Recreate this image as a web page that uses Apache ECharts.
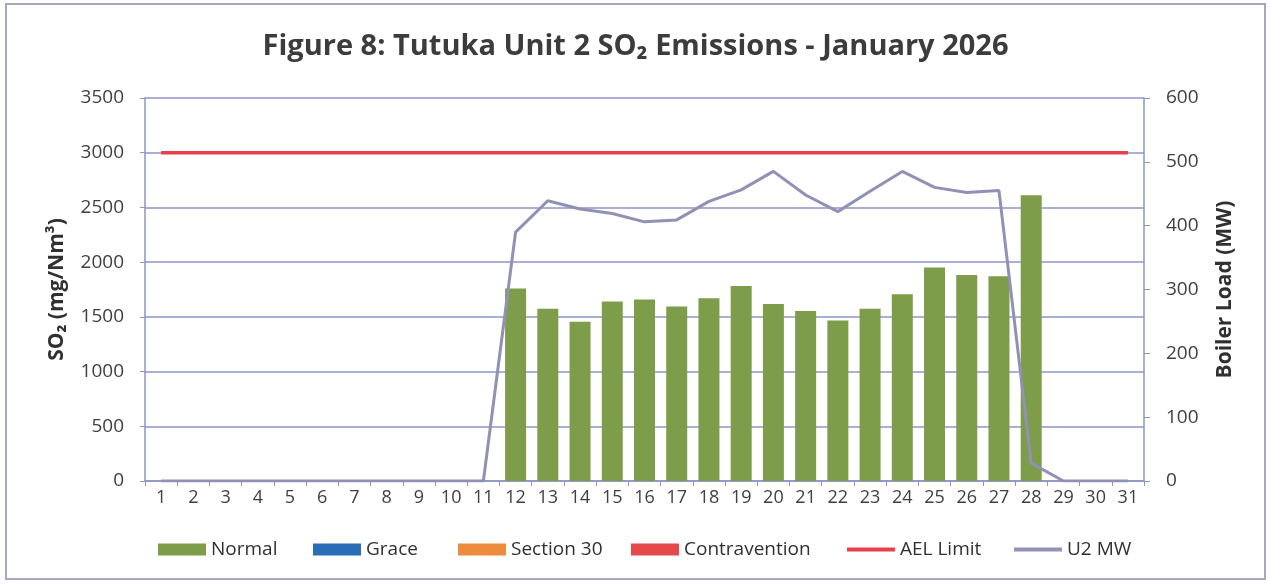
<!DOCTYPE html>
<html>
<head>
<meta charset="utf-8">
<script src="https://cdn.jsdelivr.net/npm/echarts@6/dist/echarts.min.js"></script>
<style>
html,body{margin:0;padding:0;background:#fff;}
#c{width:1271px;height:584px;}
</style>
</head>
<body>
<div id="c"></div>
<script>
const days = ["1","2","3","4","5","6","7","8","9","10","11","12","13","14","15","16","17","18","19","20","21","22","23","24","25","26","27","28","29","30","31"];
const normal = [null,null,null,null,null,null,null,null,null,null,null,1760,1575,1455,1640,1658,1595,1670,1782,1618,1553,1466,1575,1707,1950,1883,1871,2612,null,null,null];
const grace = [null,null,null,null,null,null,null,null,null,null,null,null,null,null,null,null,null,null,null,null,null,null,null,null,null,null,null,null,null,null,null];
const section30 = grace.slice();
const contravention = grace.slice();
const aelLimit = [3000,3000,3000,3000,3000,3000,3000,3000,3000,3000,3000,3000,3000,3000,3000,3000,3000,3000,3000,3000,3000,3000,3000,3000,3000,3000,3000,3000,3000,3000,3000];
const u2mw = [0,0,0,0,0,0,0,0,0,0,0,390,439,426,419,406,409,438,456,485,448,422,454,485,460,452,455,28,0,0,0];
const leftTicks = {min:0,max:3500,interval:500};
const rightTicks = {min:0,max:600,interval:100};
const legendNames = ['Normal','Grace','Section 30','Contravention','AEL Limit','U2 MW'];

const FONT = "'Open Sans', 'Liberation Sans', sans-serif";
const gridColor = '#8c94c8';
const textColor = '#404040';

const legendLeft = [153,308,453,626,842,1009];
const legends = legendNames.map((n,i)=>({
  left:legendLeft[i], top:535,
  itemWidth:48, itemHeight: i<4 ? 12 : 4, itemGap:0,
  textStyle:{fontFamily:FONT,fontSize:19,color:'#303030'},
  data:[{name:n,icon:'rect'}]
}));

const chart = echarts.init(document.getElementById('c'), null, {renderer:'canvas'});
chart.setOption({
  animation:false,
  backgroundColor:'#ffffff',
  textStyle:{fontFamily:FONT},
  graphic:[{type:'rect',shape:{x:6,y:4,width:1259,height:575},style:{fill:'none',stroke:'#a4a8bc',lineWidth:2},silent:true}],
  title:{
    text:'Figure 8: Tutuka Unit 2 SO\u2082 Emissions - January 2026',
    left:'center', top:27,
    textStyle:{fontFamily:FONT,fontSize:29,fontWeight:'bold',color:'#3c3c3c'}
  },
  legend:legends,
  grid:{left:145,right:127,top:98,bottom:103,containLabel:false},
  xAxis:{
    type:'category', data:days, boundaryGap:true,
    axisLine:{lineStyle:{color:gridColor,width:1.5}},
    axisTick:{show:true,alignWithLabel:false,length:5,lineStyle:{color:gridColor}},
    axisLabel:{color:textColor,fontSize:18,margin:8,fontFamily:FONT}
  },
  yAxis:[{
    type:'value', min:leftTicks.min, max:leftTicks.max, interval:leftTicks.interval,
    name:'SO\u2082 (mg/Nm\u00b3)', nameLocation:'middle', nameRotate:90, nameGap:77,
    nameTextStyle:{fontFamily:FONT,fontSize:21,fontWeight:'bold',color:'#303030'},
    axisLine:{show:true,lineStyle:{color:gridColor,width:1.5}},
    axisTick:{show:true,length:5,lineStyle:{color:gridColor}},
    axisLabel:{color:textColor,fontSize:19,margin:21,fontFamily:FONT,formatter:v=>String(v)},
    splitLine:{show:true,lineStyle:{color:gridColor,width:1.5}}
  },{
    type:'value', min:rightTicks.min, max:rightTicks.max, interval:rightTicks.interval,
    name:'Boiler Load (MW)', nameLocation:'middle', nameRotate:90, nameGap:71,
    nameTextStyle:{fontFamily:FONT,fontSize:21,fontWeight:'bold',color:'#303030'},
    axisLine:{show:true,lineStyle:{color:gridColor,width:1.5}},
    axisTick:{show:true,length:6,lineStyle:{color:gridColor}},
    axisLabel:{color:textColor,fontSize:19,margin:22,fontFamily:FONT,formatter:v=>String(v)},
    splitLine:{show:false}
  }],
  series:[
    {name:'Normal',type:'bar',stack:'s',data:normal,barWidth:21,itemStyle:{color:'#7d9d4b'}},
    {name:'Grace',type:'bar',stack:'s',data:grace,barWidth:21,itemStyle:{color:'#2b6db5'}},
    {name:'Section 30',type:'bar',stack:'s',data:section30,barWidth:21,itemStyle:{color:'#ee8c3e'}},
    {name:'Contravention',type:'bar',stack:'s',data:contravention,barWidth:21,itemStyle:{color:'#e54a4a'}},
    {name:'AEL Limit',type:'line',data:aelLimit,symbol:'none',showSymbol:false,lineStyle:{color:'#e8404a',width:3.5},itemStyle:{color:'#e8404a'},z:5},
    {name:'U2 MW',type:'line',yAxisIndex:1,data:u2mw,symbol:'none',showSymbol:false,lineStyle:{color:'#9091b4',width:3},itemStyle:{color:'#9091b4'},z:6}
  ]
});
</script>
</body>
</html>
